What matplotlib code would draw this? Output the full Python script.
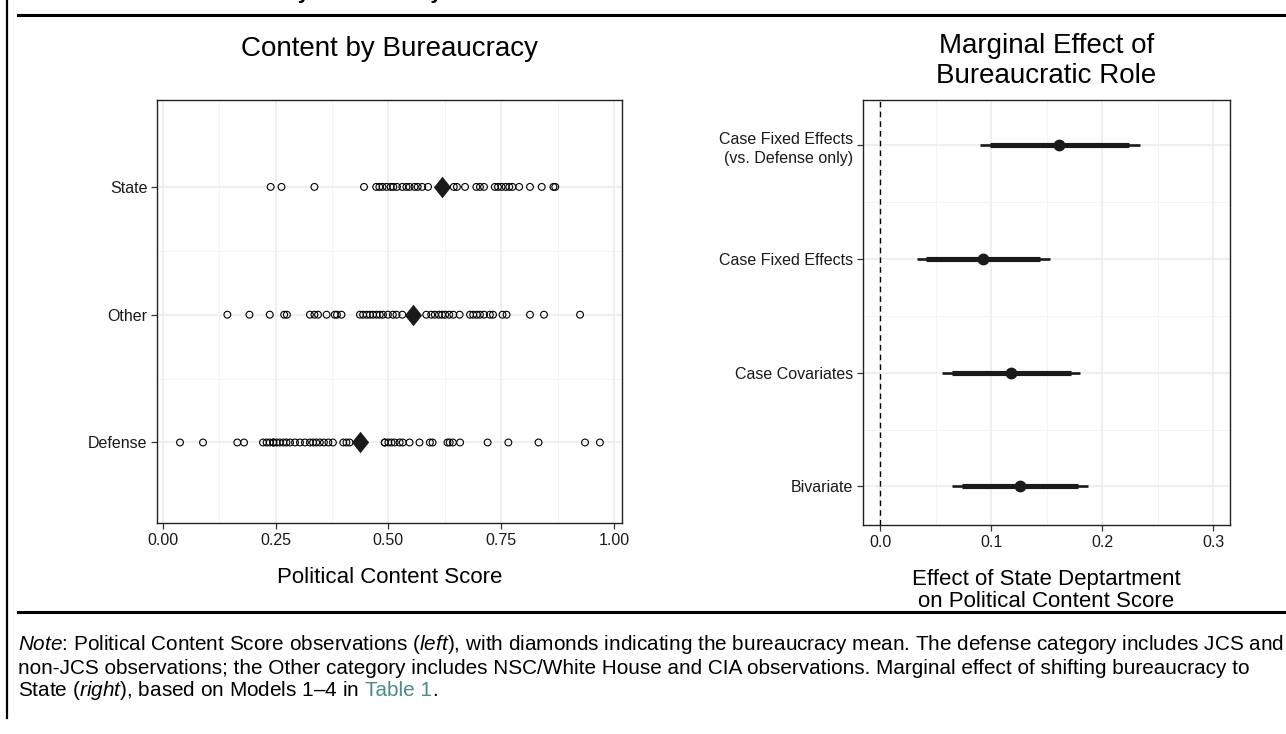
import matplotlib
matplotlib.use('Agg')
import matplotlib.pyplot as plt
from matplotlib.lines import Line2D
from matplotlib.path import Path

plt.rcParams['font.family'] = ['Liberation Sans', 'DejaVu Sans']
plt.rcParams['mathtext.fontset'] = 'custom'
plt.rcParams['mathtext.rm'] = 'Liberation Sans'
plt.rcParams['mathtext.it'] = 'Liberation Sans:italic'

# ---------------- data ----------------
categories = ['Defense', 'Other', 'State']

state_scores = [0.239, 0.263, 0.336, 0.446, 0.473, 0.480, 0.487, 0.496, 0.505,
                0.511, 0.519, 0.531, 0.540, 0.547, 0.558, 0.565, 0.575, 0.588,
                0.645, 0.652, 0.670, 0.695, 0.703, 0.712, 0.736, 0.743, 0.751,
                0.760, 0.768, 0.775, 0.790, 0.814, 0.840, 0.866, 0.870]

other_scores = [0.143, 0.192, 0.237, 0.269, 0.275, 0.326, 0.336, 0.344, 0.363,
                0.381, 0.386, 0.396, 0.437, 0.444, 0.452, 0.459, 0.466, 0.474,
                0.481, 0.488, 0.499, 0.510, 0.518, 0.531, 0.584, 0.595, 0.603,
                0.612, 0.619, 0.626, 0.635, 0.644, 0.658, 0.681, 0.688, 0.696,
                0.703, 0.712, 0.725, 0.732, 0.753, 0.762, 0.814, 0.845, 0.925]

defense_scores = [0.038, 0.089, 0.165, 0.180, 0.222, 0.230, 0.237, 0.245, 0.245,
                  0.252, 0.259, 0.267, 0.274, 0.282, 0.293, 0.304, 0.315, 0.326,
                  0.333, 0.340, 0.348, 0.357, 0.367, 0.377, 0.400, 0.407, 0.414,
                  0.492, 0.492, 0.500, 0.507, 0.514, 0.525, 0.532, 0.547, 0.569,
                  0.592, 0.598, 0.631, 0.636, 0.643, 0.659, 0.720, 0.766, 0.833,
                  0.936, 0.969]

category_means = [0.438, 0.555, 0.620]

left_xticks = [0.00, 0.25, 0.50, 0.75, 1.00]
left_xticklabels = ['0.00', '0.25', '0.50', '0.75', '1.00']

models = ['Bivariate', 'Case Covariates', 'Case Fixed Effects',
          'Case Fixed Effects\n(vs. Defense only)']
estimates = [0.126, 0.118, 0.093, 0.161]
ci_inner_low = [0.074, 0.065, 0.041, 0.099]
ci_inner_high = [0.178, 0.172, 0.144, 0.224]
ci_outer_low = [0.065, 0.056, 0.033, 0.090]
ci_outer_high = [0.187, 0.180, 0.153, 0.234]

right_xticks = [0.0, 0.1, 0.2, 0.3]
right_xticklabels = ['0.0', '0.1', '0.2', '0.3']

# ---------------- figure ----------------
W, H = 1286, 734
fig = plt.figure(figsize=(W / 100, H / 100), dpi=100)

def box(x0, y0, x1, y1):
    return [x0 / W, 1 - y1 / H, (x1 - x0) / W, (y1 - y0) / H]

grid_major = dict(color='#ebebeb', lw=1.1, zorder=0)
grid_minor = dict(color='#f3f3f3', lw=0.6, zorder=0)
tick_fs = 11.5
lab_fs = 16
title_fs = 20

def style_axes(ax):
    for s in ax.spines.values():
        s.set_color('#222222')
        s.set_linewidth(1.0)
    ax.tick_params(axis='both', length=4, width=0.9, color='#333333',
                   labelsize=tick_fs, labelcolor='#1a1a1a', pad=3)

diamond = Path([(0, 1), (0.8, 0), (0, -1), (-0.8, 0), (0, 1)],
               [Path.MOVETO, Path.LINETO, Path.LINETO, Path.LINETO, Path.CLOSEPOLY])

# ---- left panel ----
axL = fig.add_axes(box(157, 100, 622, 523))
axL.set_xlim(-0.013, 1.018)
axL.set_ylim(0.37, 3.68)
for v in [0.125, 0.375, 0.625, 0.875]:
    axL.axvline(v, **grid_minor)
for v in left_xticks:
    axL.axvline(v, **grid_major)
for yv in [1.5, 2.5]:
    axL.axhline(yv, **grid_minor)
for i in range(len(categories)):
    axL.axhline(i + 1, **grid_major)

series = [defense_scores, other_scores, state_scores]
for i, vals in enumerate(series):
    axL.scatter(vals, [i + 1] * len(vals), s=24, facecolors='none',
                edgecolors='black', linewidths=0.8, zorder=3)
axL.scatter(category_means, [1, 2, 3], marker=diamond, s=240, color='#1a1a1a',
            zorder=4, linewidths=0)
axL.set_yticks([1, 2, 3])
axL.set_yticklabels(categories)
axL.set_xticks(left_xticks)
axL.set_xticklabels(left_xticklabels)
style_axes(axL)
axL.set_xlabel('Political Content Score', fontsize=lab_fs, labelpad=14)
axL.set_title('Content by Bureaucracy', fontsize=title_fs, pad=32)

# ---- right panel ----
axR = fig.add_axes(box(863, 100, 1230, 525))
axR.set_xlim(-0.0153, 0.315)
axR.set_ylim(0.66, 4.4)
for v in [0.05, 0.15, 0.25]:
    axR.axvline(v, **grid_minor)
for v in right_xticks:
    axR.axvline(v, **grid_major)
for yv in [1.5, 2.5, 3.5]:
    axR.axhline(yv, **grid_minor)
for i in range(len(models)):
    axR.axhline(i + 1, **grid_major)
axR.axvline(0, color='black', lw=1.0, ls=(0, (4, 3)), zorder=2)

ys = list(range(1, len(models) + 1))
axR.hlines(ys, ci_outer_low, ci_outer_high, color='#1a1a1a', lw=1.9, zorder=3)
axR.hlines(ys, ci_inner_low, ci_inner_high, color='#1a1a1a', lw=3.7, zorder=4)
axR.plot(estimates, ys, 'o', color='#1a1a1a', ms=7.5, zorder=5)
axR.set_yticks(ys)
axR.set_yticklabels(models, multialignment='right', linespacing=1.3)
axR.set_xticks(right_xticks)
axR.set_xticklabels(right_xticklabels)
style_axes(axR)
axR.set_xlabel('Effect of State Deptartment\non Political Content Score',
               fontsize=lab_fs, labelpad=14, linespacing=1.05)
axR.set_title('Marginal Effect of\nBureaucratic Role', fontsize=title_fs,
              pad=12, linespacing=1.2)

# ---- frame lines and headings ----
fig.add_artist(Line2D([18 / W, 1], [1 - 15 / H, 1 - 15 / H], color='black', lw=2.2))
fig.add_artist(Line2D([18 / W, 1], [1 - 612 / H, 1 - 612 / H], color='black', lw=2.2))
fig.add_artist(Line2D([7 / W, 7 / W], [1, 1 - 718 / H], color='black', lw=1.6))

fig.text(442 / W, 1 + 0.6 / H, 'Political Content by Bureaucracy', ha='right',
         va='baseline', fontsize=15, fontweight='bold')

# ---- note ----
line1 = (r'$\it{Note}$: Political Content Score observations ($\it{left}$), with diamonds '
         'indicating the bureaucracy mean. The defense category includes JCS and')
line2 = ('non-JCS observations; the Other category includes NSC/White House and CIA '
         'observations. Marginal effect of shifting bureaucracy to')
line3a = r'State ($\it{right}$), based on Models 1–4 in'

fig.canvas.draw()
r = fig.canvas.get_renderer()
probe = fig.text(0, 0, line1, fontsize=12)
w12 = probe.get_window_extent(r).width
probe.remove()
note_fs = 12 * (1264 / w12)

fig.text(18 / W, 1 - 645 / H, line1, fontsize=note_fs, va='center', ha='left')
fig.text(18 / W, 1 - 668 / H, line2, fontsize=note_fs, va='center', ha='left')
t1 = fig.text(18 / W, 1 - 690 / H, line3a, fontsize=note_fs, va='center', ha='left')
fig.canvas.draw()
x1 = t1.get_window_extent(r).x1 + 0.278 * note_fs * 100 / 72
t2 = fig.text(x1 / W, 1 - 690 / H, 'Table 1', color='#4f8a8b',
              fontsize=note_fs, va='center', ha='left')
fig.canvas.draw()
x2 = t2.get_window_extent(r).x1
fig.text(x2 / W, 1 - 690 / H, '.', fontsize=note_fs, va='center', ha='left')

fig.savefig('out.png', dpi=100)
